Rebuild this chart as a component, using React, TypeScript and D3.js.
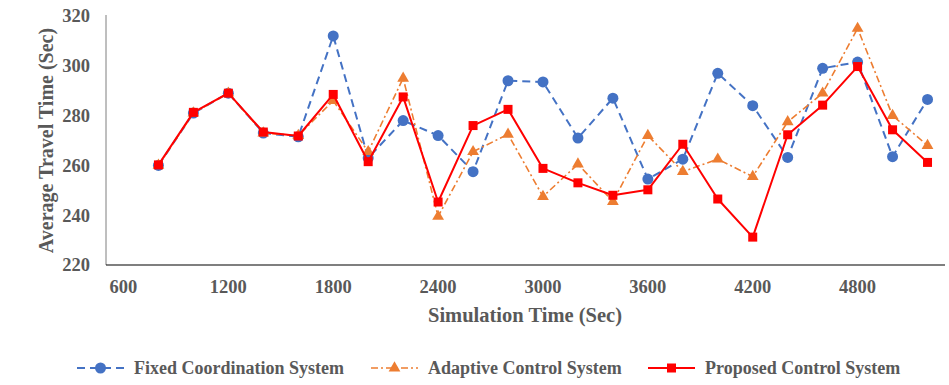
import React from 'react';
import * as d3 from 'd3';

const times = [800, 1000, 1200, 1400, 1600, 1800, 2000, 2200, 2400, 2600, 2800, 3000, 3200, 3400, 3600, 3800, 4000, 4200, 4400, 4600, 4800, 5000, 5200];
const fixedSys = [260, 281, 289, 273, 271.5, 312, 263, 278, 272, 257.5, 294, 293.5, 271, 287, 254.5, 262.5, 297, 284, 263.2, 299, 301.5, 263.5, 286.5];
const adaptiveSys = [260, 281, 289, 273, 272, 286, 265.5, 295, 239.5, 265.5, 272.5, 247.5, 260.5, 245.5, 272, 257.5, 262.5, 255.5, 277.5, 289, 315, 280, 268];
const proposedSys = [260.2, 281.3, 289, 273.4, 271.8, 288.5, 261.5, 287.5, 245.3, 276, 282.5, 258.8, 253, 248, 250.2, 268.5, 246.5, 231.2, 272.3, 284.2, 299.7, 274.3, 261.2];
const xTicks = [600, 1200, 1800, 2400, 3000, 3600, 4200, 4800];
const yTicks = [220, 240, 260, 280, 300, 320];

const W = 949;
const H = 385;
const left = 106;
const right = 945;
const top = 16;
const bottom = 265;

const BLUE = '#4472C4';
const ORANGE = '#ED7D31';
const RED = '#FF0000';
const GRAY = '#595959';
const FONT = '"Liberation Serif", "Times New Roman", serif';

const x = d3.scaleLinear().domain([500, 5300]).range([left, right]);
const y = d3.scaleLinear().domain([220, 320]).range([bottom, top]);

const line = d3.line<number>()
  .x((d, i) => x(times[i]))
  .y(d => y(d));

const triangle = d3.symbol().type(d3.symbolTriangle).size(60)();

function Marker({ kind, cx, cy }: { kind: string; cx: number; cy: number }) {
  if (kind === 'circle') return <circle cx={cx} cy={cy} r={5.5} fill={BLUE} />;
  if (kind === 'triangle') return <path d={triangle || ''} transform={`translate(${cx},${cy})`} fill={ORANGE} />;
  return <rect x={cx - 4.5} y={cy - 4.5} width={9} height={9} fill={RED} />;
}

const series = [
  { name: 'Fixed Coordination System', values: fixedSys, color: BLUE, dash: '8,5', width: 2, kind: 'circle' },
  { name: 'Adaptive Control System', values: adaptiveSys, color: ORANGE, dash: '7,3,2,3', width: 1.6, kind: 'triangle' },
  { name: 'Proposed Control System', values: proposedSys, color: RED, dash: undefined, width: 2, kind: 'square' },
];

const legendX = [77, 371, 648];

const App = () => {
  return (
    <div style={{ position: 'absolute', left: 0, top: 0 }}>
      <svg width={W} height={H} style={{ display: 'block', background: '#fff' }}>
        {/* axes */}
        <line x1={left} x2={left} y1={top - 1} y2={bottom} stroke="#7f7f7f" strokeWidth={1} />
        <line x1={left} x2={right} y1={bottom} y2={bottom} stroke="#000" strokeWidth={1.2} />

        {yTicks.map(t => (
          <text key={t} x={left - 16} y={y(t)} dy="0.35em" textAnchor="end"
            fontFamily={FONT} fontWeight="bold" fontSize={18.5} fill={GRAY}>{t}</text>
        ))}
        {xTicks.map(t => (
          <text key={t} x={x(t)} y={293} textAnchor="middle"
            fontFamily={FONT} fontWeight="bold" fontSize={18.5} fill={GRAY}>{t}</text>
        ))}

        <text transform={`translate(46,${(top + bottom) / 2}) rotate(-90)`} textAnchor="middle" dy="0.35em"
          fontFamily={FONT} fontWeight="bold" fontSize={20} fill={GRAY}>Average Travel Time (Sec)</text>
        <text x={525} y={322} textAnchor="middle"
          fontFamily={FONT} fontWeight="bold" fontSize={20.5} fill={GRAY}>Simulation Time (Sec)</text>

        {series.map(s => (
          <g key={s.name}>
            <path d={line(s.values) || ''} fill="none" stroke={s.color} strokeWidth={s.width}
              strokeDasharray={s.dash} strokeLinejoin="round" />
            {s.values.map((v, i) => (
              <Marker key={i} kind={s.kind} cx={x(times[i])} cy={y(v)} />
            ))}
          </g>
        ))}

        {/* legend */}
        {series.map((s, i) => (
          <g key={s.name} transform={`translate(${legendX[i]},368)`}>
            <line x1={0} x2={47} y1={0} y2={0} stroke={s.color} strokeWidth={s.width} strokeDasharray={s.dash} />
            <Marker kind={s.kind} cx={23.5} cy={0} />
            <text x={57} y={0} dy="0.35em" fontFamily={FONT} fontWeight="bold" fontSize={18} fill={GRAY}>{s.name}</text>
          </g>
        ))}
      </svg>
    </div>
  );
};

export default App;
